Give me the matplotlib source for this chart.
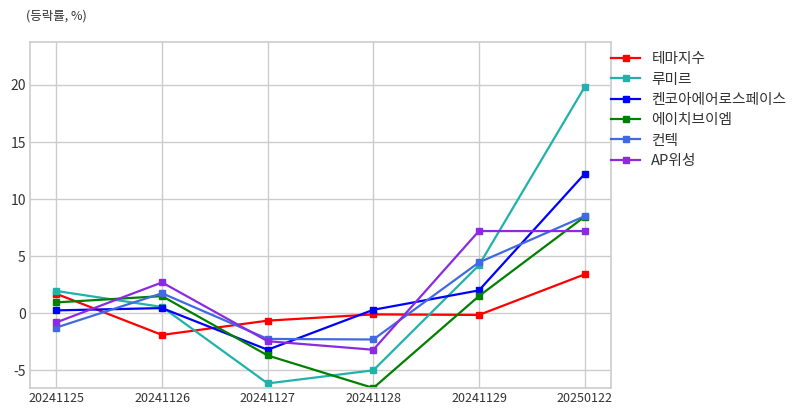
import matplotlib
matplotlib.use("Agg")
import matplotlib.pyplot as plt

plt.rcParams['font.family'] = ['Noto Sans CJK KR', 'DejaVu Sans']
plt.rcParams['axes.unicode_minus'] = False

dates = ["20241125", "20241126", "20241127", "20241128", "20241129", "20250122"]
series_names = ["테마지수", "루미르", "켄코아에어로스페이스", "에이치브이엠", "컨텍", "AP위성"]
theme = [1.7, -1.9, -0.65, -0.1, -0.15, 3.4]
lumir = [1.95, 0.55, -6.15, -5.0, 4.2, 19.8]
kencoa = [0.25, 0.45, -3.2, 0.3, 2.0, 12.2]
hvm = [0.95, 1.5, -3.7, -6.55, 1.5, 8.45]
contec = [-1.25, 1.75, -2.25, -2.3, 4.45, 8.5]
apsat = [-0.8, 2.7, -2.45, -3.2, 7.2, 7.2]
all_values = [theme, lumir, kencoa, hvm, contec, apsat]
colors = ["red", "lightseagreen", "blue", "green", "royalblue", "blueviolet"]

fig = plt.figure(figsize=(8.02, 4.16), dpi=100)
ax = fig.add_axes([0.0374, 0.0673, 0.7244, 0.8317])

x = list(range(len(dates)))
for name, vals, c in zip(series_names, all_values, colors):
    ax.plot(x, vals, color=c, marker='s', markersize=5, linewidth=1.6, label=name)

vmin = min(min(v) for v in all_values)
vmax = max(max(v) for v in all_values)
ax.set_ylim(vmin, vmax * 1.2)
ax.set_xlim(-0.25, 5.25)
ax.set_xticks(x)
ax.set_xticklabels(dates)
ax.set_yticks([-5, 0, 5, 10, 15, 20])

ax.grid(True, color="#cccccc", linewidth=1.0)
ax.set_axisbelow(True)
for s in ax.spines.values():
    s.set_color("#cccccc")
    s.set_linewidth(1.2)
ax.tick_params(axis='both', length=0, colors="#333333", pad=3)
ax.tick_params(axis='x', labelsize=9)
ax.tick_params(axis='y', labelsize=10)

fig.text(0.033, 0.962, "(등락률, %)", fontsize=9, color="#333333", va='center', ha='left')

leg = ax.legend(loc='upper left', bbox_to_anchor=(0.982, 1.0), frameon=False,
                fontsize=10.6, handlelength=2.0, borderaxespad=0.3, labelspacing=0.43,
                handletextpad=0.75)
for t in leg.get_texts():
    t.set_color("#333333")

fig.savefig("out.png", dpi=100)
